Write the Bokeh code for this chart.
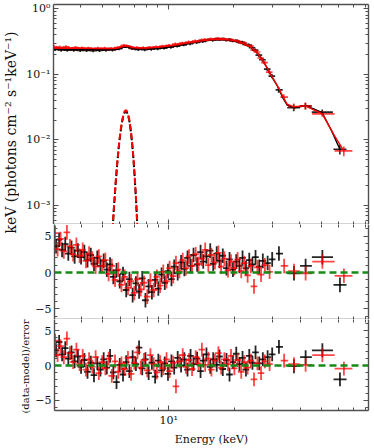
import numpy as np
from bokeh.plotting import figure
from bokeh.models import LogAxis, LinearAxis, FixedTicker, Span, Range1d, Label, LogScale
from bokeh.layouts import row, column
from bokeh.embed import file_html
from bokeh.resources import INLINE

FONT = "DejaVu Serif"
FRAME = "#505050"
BLACK = "#000000"
RED = "#ff0000"
GREEN = "#158a15"

# ---------------- data ----------------
x_limits = (3.0, 82.3)
y_limits_top = (5.14e-4, 1.16)
y_limits_mid = (-6.44, 6.58)
y_limits_bot = (-6.5, 6.65)

x_major = [10]
x_minor = [4, 5, 6, 7, 8, 9, 20, 30, 40, 50, 60, 70, 80]
x_labels = {10: "10¹"}
y_major_top = [1e-3, 1e-2, 1e-1, 1]
y_minor_top = [6e-4, 7e-4, 8e-4, 9e-4,
               2e-3, 3e-3, 4e-3, 5e-3, 6e-3, 7e-3, 8e-3, 9e-3,
               2e-2, 3e-2, 4e-2, 5e-2, 6e-2, 7e-2, 8e-2, 9e-2,
               0.2, 0.3, 0.4, 0.5, 0.6, 0.7, 0.8, 0.9]
y_labels_top = {1e-3: "10⁻³", 1e-2: "10⁻²", 1e-1: "10⁻¹", 1: "10⁰"}
res_major = [-5, 0, 5]
res_minor = [-6, -4, -3, -2, -1, 1, 2, 3, 4, 6]
res_labels = {-5: "−5", 0: "0", 5: "5"}

# half-width of the narrow (below ~30 keV) bins, as a fraction of the energy
dense_half_width = 0.035

# FPMA (black) bin centres, keV
E_black = [3.05, 3.15, 3.25, 3.36, 3.47, 3.59, 3.71, 3.84, 3.97, 4.11,
           4.25, 4.40, 4.55, 4.71, 4.87, 5.04, 5.21, 5.39, 5.58, 5.77,
           5.97, 6.18, 6.39, 6.61, 6.84, 7.08, 7.32, 7.57, 7.83, 8.10,
           8.38, 8.67, 8.97, 9.28, 9.60, 9.93, 10.3, 10.6, 11.0, 11.4,
           11.8, 12.2, 12.6, 13.0, 13.5, 14.0, 14.4, 14.9, 15.5, 16.0,
           16.6, 17.1, 17.7, 18.4, 19.0, 19.7, 20.4, 21.1, 21.8, 22.6,
           23.4, 24.2, 25.0, 26.0, 27.0, 28.4, 29.8,
           32.0, 37.5, 42.4, 50.6, 60.9]
wide_lo_black = [31.0, 35.0, 40.0, 45.3, 56.9]
wide_hi_black = [33.4, 40.0, 45.3, 56.6, 65.3]
flux_black = [0.241, 0.248, 0.236, 0.245, 0.234, 0.243, 0.233, 0.242, 0.231, 0.241,
              0.232, 0.240, 0.230, 0.239, 0.232, 0.240, 0.233, 0.241, 0.235, 0.244,
              0.246, 0.259, 0.266, 0.262, 0.248, 0.246, 0.240, 0.247, 0.238, 0.247,
              0.241, 0.250, 0.245, 0.256, 0.251, 0.263, 0.259, 0.272, 0.269, 0.284,
              0.281, 0.297, 0.293, 0.309, 0.305, 0.323, 0.317, 0.330, 0.339, 0.330,
              0.345, 0.338, 0.347, 0.333, 0.340, 0.324, 0.327, 0.310, 0.308, 0.285,
              0.279, 0.254, 0.234, 0.196, 0.167, 0.120, 0.094,
              0.058, 0.031, 0.033, 0.0265, 0.0072]
flux_rel_err = [0.060, 0.060, 0.060, 0.058, 0.058, 0.058, 0.056, 0.056, 0.056, 0.055,
                0.055, 0.055, 0.054, 0.054, 0.054, 0.053, 0.053, 0.053, 0.052, 0.052,
                0.052, 0.052, 0.052, 0.052, 0.052, 0.052, 0.052, 0.052, 0.052, 0.052,
                0.050, 0.050, 0.050, 0.050, 0.050, 0.050, 0.050, 0.050, 0.050, 0.050,
                0.050, 0.050, 0.050, 0.050, 0.050, 0.050, 0.050, 0.050, 0.050, 0.050,
                0.050, 0.050, 0.050, 0.051, 0.051, 0.052, 0.052, 0.053, 0.054, 0.055,
                0.056, 0.057, 0.058, 0.060, 0.062, 0.066, 0.072,
                0.10, 0.12, 0.12, 0.10, 0.17]
res1_black = [3.6, 4.5, 3.1, 3.9, 2.6, 3.4, 2.2, 3.0, 2.1, 2.8,
              1.7, 2.4, 1.2, 2.0, 0.9, 1.6, 0.4, 1.1, -0.6, 0.3,
              -1.2, -0.2, -2.4, -0.9, -3.1, -1.5, -2.6, -0.8, -3.8, -1.9,
              -2.7, -1.0, -2.2, -0.3, -1.4, 0.2, -0.9, 0.8, -0.1, 1.4,
              0.5, 2.0, 0.9, 2.4, 1.1, 2.8, 1.5, 2.2, 3.0, 1.2,
              2.6, 1.6, 2.3, 0.6, 1.8, 0.4, 1.5, 0.9, 2.0, 0.6,
              1.7, 1.1, 2.1, 0.8, 1.6, 1.3, 1.8,
              2.6, -0.1, 0.9, 2.1, -1.7]
res2_black = [2.2, 3.4, 1.6, 2.5, 1.0, 1.9, 0.6, 1.3, -0.2, 0.8,
              -0.9, 0.4, -1.4, 0.3, -0.6, 0.9, -0.3, 1.4, -1.0, -2.4,
              0.1, -1.3, 0.5, -0.8, 1.2, 0.2, 2.6, -0.4, 0.9, -1.1,
              0.4, -1.6, 0.7, -0.7, 0.3, -1.2, 0.6, -0.3, 1.1, 0.0,
              0.9, -0.6, 1.4, 0.2, 1.0, -0.8, 0.7, 1.6, -0.2, 0.9,
              0.1, 1.3, -0.5, 0.8, -1.3, 0.5, 1.7, 0.2, 1.1, -0.6,
              1.4, 0.4, 1.9, 0.3, 0.9, 1.2, 1.6,
              2.7, -0.1, 1.2, 2.2, -2.0]

# FPMB (red) bin centres, keV
E_red = [3.02, 3.10, 3.20, 3.31, 3.42, 3.53, 3.65, 3.78, 3.91, 4.04,
         4.18, 4.32, 4.47, 4.63, 4.79, 4.96, 5.13, 5.31, 5.49, 5.68,
         5.88, 6.08, 6.29, 6.51, 6.73, 6.96, 7.20, 7.45, 7.71, 7.98,
         8.25, 8.54, 8.83, 9.14, 9.45, 9.78, 10.1, 10.5, 10.8, 11.2,
         11.6, 12.0, 12.4, 12.8, 13.3, 13.7, 14.2, 14.7, 15.2, 15.7,
         16.3, 16.9, 17.4, 18.0, 18.7, 19.3, 20.0, 20.7, 21.5, 22.2,
         23.0, 23.8, 24.6, 25.5, 26.5, 27.6, 29.0,
         33.8, 37.5, 42.4, 50.6, 63.5]
wide_lo_red = [32.6, 35.3, 39.9, 45.5, 57.6]
wide_hi_red = [35.3, 39.9, 45.3, 57.6, 69.5]
flux_red = [0.262, 0.249, 0.259, 0.247, 0.262, 0.250, 0.245, 0.255, 0.244, 0.252,
            0.242, 0.250, 0.244, 0.241, 0.249, 0.241, 0.249, 0.240, 0.248, 0.243,
            0.255, 0.259, 0.276, 0.269, 0.262, 0.247, 0.255, 0.247, 0.254, 0.247,
            0.258, 0.252, 0.263, 0.258, 0.269, 0.264, 0.277, 0.273, 0.290, 0.284,
            0.300, 0.295, 0.311, 0.306, 0.322, 0.317, 0.331, 0.340, 0.332, 0.346,
            0.339, 0.353, 0.340, 0.349, 0.335, 0.340, 0.325, 0.325, 0.304, 0.303,
            0.277, 0.269, 0.235, 0.219, 0.177, 0.151, 0.108,
            0.045, 0.032, 0.033, 0.025, 0.0068]
res1_red = [5.4, 3.2, 4.6, 2.9, 5.5, 3.6, 2.5, 3.8, 2.3, 3.1,
            1.6, 2.6, 1.9, 0.8, 2.2, 0.9, 1.7, -0.2, 0.9, -1.0,
            0.4, -1.7, -0.6, -2.1, -1.2, -2.8, -0.9, -2.3, -1.4, -3.3,
            -1.1, -2.4, -0.6, -1.8, 0.1, -1.2, 0.6, -0.5, 1.3, 0.2,
            1.7, 0.6, 2.2, 0.9, 2.5, 1.2, 1.9, 3.1, 1.0, 2.4,
            1.4, 2.7, 0.8, 1.9, 0.3, 1.5, 0.6, 1.8, 0.2, 1.3,
            -0.4, 0.9, -1.9, 0.7, -0.3, 1.0, 0.1,
            0.9, 0.2, -0.1, 1.5, -0.45]
res2_red = [3.6, 1.5, 2.8, 1.2, 3.9, 1.8, 0.5, 2.3, 0.2, 1.4,
            -0.6, 0.9, -0.2, 1.2, -1.1, 0.5, -0.4, 1.0, -1.5, 0.6,
            -0.9, 0.3, -0.5, 1.1, -1.2, 0.4, 1.9, -0.3, 0.8, -0.7,
            1.5, 0.2, -1.0, 0.5, -0.4, 0.9, -0.8, 0.4, -3.0, 0.6,
            1.5, -0.2, 0.8, -0.5, 1.2, 0.3, 2.3, 0.1, 1.0, -0.6,
            0.7, 1.8, -0.3, 0.9, 0.2, 1.4, -0.4, 0.8, -0.9, 0.5,
            -0.3, 0.7, -2.0, 0.3, -1.1, 0.6, 0.2,
            0.7, 0.2, 0.1, 1.5, -0.45]

# model curves
model_E_black = [3.0, 4.0, 5.0, 5.6, 5.9, 6.2, 6.4, 6.6, 6.9, 7.3,
                 8, 9, 10, 11, 12, 13, 14, 15, 16, 17,
                 18, 19, 20, 21, 22, 23, 24, 25, 26, 27,
                 28, 29, 30, 31.6, 33.3, 35, 37.5, 42.4, 46, 50.6,
                 56, 60.9]
model_black = [0.239, 0.238, 0.237, 0.238, 0.243, 0.257, 0.265, 0.260, 0.248, 0.243,
               0.244, 0.250, 0.261, 0.274, 0.290, 0.304, 0.317, 0.328, 0.336, 0.340,
               0.338, 0.333, 0.324, 0.312, 0.296, 0.278, 0.256, 0.228, 0.196, 0.163,
               0.134, 0.107, 0.088, 0.066, 0.045, 0.034, 0.031, 0.033, 0.030, 0.026,
               0.0135, 0.0072]
model_E_red = [3.0, 4.0, 5.0, 5.6, 5.9, 6.2, 6.4, 6.6, 6.9, 7.3,
               8, 9, 10, 11, 12, 13, 14, 15, 16, 17,
               18, 19, 20, 21, 22, 23, 24, 25, 26, 27,
               28, 29, 30, 31.6, 33.8, 35, 37.5, 42.4, 46, 50.6,
               57.6, 63.5]
model_red = [0.252, 0.250, 0.248, 0.248, 0.252, 0.265, 0.273, 0.268, 0.256, 0.251,
             0.252, 0.258, 0.269, 0.282, 0.296, 0.309, 0.321, 0.331, 0.339, 0.343,
             0.341, 0.335, 0.326, 0.313, 0.297, 0.279, 0.257, 0.229, 0.197, 0.164,
             0.135, 0.108, 0.089, 0.067, 0.043, 0.035, 0.032, 0.033, 0.029, 0.025,
             0.0115, 0.0068]
gauss_E = [5.55, 5.65, 5.75, 5.85, 5.95, 6.05, 6.15, 6.25, 6.35, 6.45,
           6.55, 6.65, 6.75, 6.85, 6.95, 7.05, 7.15, 7.25, 7.35]
gauss_black = [3.1e-4, 8.1e-4, 1.9e-3, 3.96e-3, 7.36e-3, 1.21e-2, 1.78e-2, 2.30e-2, 2.66e-2, 2.73e-2,
               2.48e-2, 2.0e-2, 1.43e-2, 9.1e-3, 5.2e-3, 2.58e-3, 1.15e-3, 4.5e-4, 1.6e-4]
gauss_red = [3.2e-4, 8.4e-4, 1.98e-3, 4.13e-3, 7.67e-3, 1.26e-2, 1.85e-2, 2.40e-2, 2.77e-2, 2.84e-2,
             2.58e-2, 2.08e-2, 1.49e-2, 9.5e-3, 5.4e-3, 2.69e-3, 1.20e-3, 4.7e-4, 1.7e-4]

y_label_top = "keV (photons cm⁻² s⁻¹keV⁻¹)"
y_label_res = "(data-model)/error"
x_label = "Energy (keV)"


# ---------------- helpers ----------------
def bin_edges(centers, wide_lo, wide_hi):
    c = np.asarray(centers, dtype=float)
    n_dense = len(c) - len(wide_lo)
    lo = c * (1 - dense_half_width)
    hi = c * (1 + dense_half_width)
    lo[n_dense:] = wide_lo
    hi[n_dense:] = wide_hi
    return lo, hi


lo_b, hi_b = bin_edges(E_black, wide_lo_black, wide_hi_black)
lo_r, hi_r = bin_edges(E_red, wide_lo_red, wide_hi_red)

x_rng = Range1d(*x_limits)

# layout geometry (page pixels)
STRIP1 = 19          # left strip holding the top y label
STRIP2 = 13          # strip holding the residual y label
FRAME_X0 = 53
RIGHT = 6
TOP_W = 374 - STRIP1
RES_W = TOP_W - STRIP2


def style_axis(ax, labels=None, size="11px"):
    ax.axis_line_color = FRAME
    ax.axis_line_width = 1.4
    ax.major_tick_line_color = FRAME
    ax.minor_tick_line_color = FRAME
    ax.major_tick_line_width = 1.1
    ax.minor_tick_line_width = 1.0
    ax.major_tick_in = 5
    ax.major_tick_out = 0
    ax.minor_tick_in = 3
    ax.minor_tick_out = 0
    ax.major_label_text_font = FONT
    if labels is not None:
        ax.major_label_overrides = labels
        ax.major_label_text_font_size = size
        ax.major_label_text_color = "#111111"
        ax.major_label_standoff = 3
    else:
        ax.major_label_overrides = {t: "" for t in ax.ticker.ticks}
        ax.major_label_text_font_size = "1px"
        ax.major_label_text_color = None
        ax.major_label_standoff = 0
    return ax


def make_panel(width, left_border, height, ylog, yr, top_border, bottom_border):
    p = figure(width=width, height=height, x_axis_type=None, y_axis_type=None,
               x_range=x_rng, y_range=Range1d(*yr),
               toolbar_location=None, output_backend="svg",
               min_border_left=left_border, min_border_right=RIGHT,
               min_border_top=top_border, min_border_bottom=bottom_border,
               outline_line_color=None, background_fill_color="white",
               border_fill_color="white")
    p.x_scale = LogScale()
    if ylog:
        p.y_scale = LogScale()
    return p


def add_axes(p, ylog, y_ticks, y_minor, ylabels, xlabels=None, top_line=True, xlabel=None):
    YA = LogAxis if ylog else LinearAxis
    left = style_axis(YA(ticker=FixedTicker(ticks=y_ticks, minor_ticks=y_minor)), ylabels)
    right = style_axis(YA(ticker=FixedTicker(ticks=y_ticks, minor_ticks=y_minor)))
    below = style_axis(LogAxis(ticker=FixedTicker(ticks=x_major, minor_ticks=x_minor)), xlabels)
    above = style_axis(LogAxis(ticker=FixedTicker(ticks=x_major, minor_ticks=x_minor)))
    if not top_line:
        above.axis_line_color = None
    if xlabel:
        below.axis_label = xlabel
        below.axis_label_text_font = FONT
        below.axis_label_text_font_size = "11px"
        below.axis_label_text_font_style = "normal"
        below.axis_label_text_color = "#111111"
        below.axis_label_standoff = 3
    p.add_layout(left, "left")
    p.add_layout(right, "right")
    p.add_layout(below, "below")
    p.add_layout(above, "above")


def crosses(p, E, lo, hi, y, ylo, yhi, color, alpha, width=1.5):
    p.segment(x0=lo, x1=hi, y0=y, y1=y, line_color=color, line_alpha=alpha, line_width=width)
    p.segment(x0=E, x1=E, y0=ylo, y1=yhi, line_color=color, line_alpha=alpha, line_width=width)


# ---------------- top panel ----------------
top = make_panel(TOP_W, FRAME_X0 - STRIP1, 224, True, y_limits_top, 4, 0)
add_axes(top, True, y_major_top, y_minor_top, y_labels_top)

fb = np.array(flux_black)
fr = np.array(flux_red)
rel = np.array(flux_rel_err)
crosses(top, E_black, lo_b, hi_b, fb, fb * (1 - rel), fb * (1 + rel), BLACK, 0.85, 1.6)
crosses(top, E_red, lo_r, hi_r, fr, fr * (1 - rel), fr * (1 + rel), RED, 0.75, 1.6)
top.line(model_E_black, model_black, line_color=BLACK, line_width=1.4)
top.line(model_E_red, model_red, line_color=RED, line_width=1.4)
top.line(gauss_E, gauss_black, line_color=BLACK, line_width=2, line_dash="6 3")
top.line(gauss_E, gauss_red, line_color=RED, line_width=2, line_dash="6 3")


# ---------------- residual panels ----------------
def residual_panel(height, yr, bottom_border, r_black, r_red, xlabels=None, xlabel=None):
    p = make_panel(RES_W, FRAME_X0 - STRIP1 - STRIP2, height, False, yr, 0, bottom_border)
    add_axes(p, False, res_major, res_minor, res_labels,
             xlabels=xlabels, top_line=False, xlabel=xlabel)
    rb = np.array(r_black)
    rr = np.array(r_red)
    crosses(p, E_black, lo_b, hi_b, rb, rb - 1, rb + 1, BLACK, 0.85, 1.8)
    crosses(p, E_red, lo_r, hi_r, rr, rr - 1, rr + 1, RED, 0.72, 1.8)
    p.add_layout(Span(location=0, dimension="width", line_color=GREEN,
                      line_width=2.5, line_dash="7 4"))
    return p


mid = residual_panel(95, y_limits_mid, 0, res1_black, res1_red)
bot = residual_panel(129, y_limits_bot, 34, res2_black, res2_red,
                     xlabels=x_labels, xlabel=x_label)


# ---------------- label strips ----------------
def strip(width, height, text, x, y, size):
    s = figure(width=width, height=height, x_range=Range1d(0, 1), y_range=Range1d(0, 1),
               x_axis_type=None, y_axis_type=None,
               toolbar_location=None, output_backend="svg",
               min_border=0, outline_line_color=None,
               background_fill_color="white", border_fill_color="white")
    s.add_layout(Label(x=x, y=y, x_units="screen", y_units="screen",
                       text=text, angle=90, angle_units="deg",
                       text_align="center", text_baseline="middle",
                       text_font=FONT, text_font_size=size, text_color="#111111"))
    return s


strip1 = strip(STRIP1, 448, y_label_top, 10.5, 448 - 132, "14px")
strip2 = strip(STRIP2, 95 + 129, y_label_res, 6, 448 - 366, "10px")

layout = row(strip1,
             column(top, row(strip2, column(mid, bot, spacing=0), spacing=0), spacing=0),
             spacing=0)

open("out.html", "w").write(file_html(layout, INLINE, title="spectrum"))
